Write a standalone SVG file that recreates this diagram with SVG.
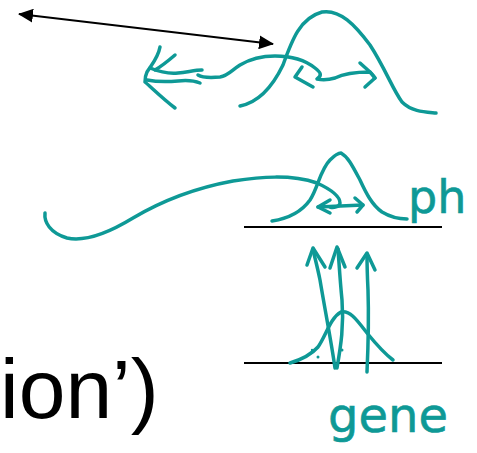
<svg xmlns="http://www.w3.org/2000/svg" width="477" height="453" viewBox="0 0 477 453">
<style>
.ink{fill:none;stroke:#0e9996;stroke-width:3.5;stroke-linecap:round;stroke-linejoin:round}
.hand{fill:#0e9996;stroke:#0e9996;stroke-width:0.6;font-family:"DejaVu Sans",sans-serif}
.blk{fill:none;stroke:#000;stroke-width:2}
</style>
<defs>
<marker id="ah" viewBox="0 0 15 14" refX="14" refY="7" markerWidth="15" markerHeight="14" markerUnits="userSpaceOnUse" orient="auto-start-reverse">
<path d="M0,0 L15,7 L0,14 z" fill="#000"/>
</marker>
</defs>
<rect width="477" height="453" fill="#fff"/>
<g id="connectors">
<line class="blk" x1="19" y1="14" x2="273" y2="44" marker-start="url(#ah)" marker-end="url(#ah)" style="stroke-width:1.8"/>
<line class="blk" x1="244" y1="227" x2="442" y2="227"/>
<line class="blk" x1="244" y1="363" x2="442" y2="363"/>
</g>
<g id="top-sketch">
<path class="ink" d="M240,106 C255,103 270,92 283,65 C292,40 300,18 322,12 C340,9 355,25 370,45 C385,68 393,90 402,102 C412,112 425,112 436,113"/>
<path class="ink" d="M160,47 C158,58 152,64 147,72 C145,76 145,80 145,82 C152,88 162,98 175,108"/>
<path class="ink" d="M175,55 C168,61 162,66 155,70"/>
<path class="ink" d="M150,68 C160,72 170,74 178,73 C188,72 195,70 202,70"/>
<path class="ink" d="M147,80 C157,82 167,82 178,81 C188,80 195,81 200,83"/>
<path class="ink" d="M198,75 C203,78 210,78 220,77 C228,76 232,70 240,65 C250,59 262,56 275,56 C292,56 305,60 315,68 C320,72 323,75 317,79 C322,80 328,80 335,78 C345,73 355,72 370,72 C373,75 375,78 375,78"/>
<path class="ink" d="M360,63 L370,72 L375,78 L365,87"/>
<path class="ink" d="M302,67 L295,77 L313,87"/>
</g>
<g id="middle-sketch">
<path class="ink" d="M45,213 C44,222 50,233 67,238 C85,242 110,232 133,218 C160,202 195,188 233,181 C260,177 290,174 317,183 C330,189 340,196 340,203 C340,207 333,208 330,207"/>
<path class="ink" d="M318,207 L363,205"/>
<path class="ink" d="M330,200 L318,207 L330,213"/>
<path class="ink" d="M355,198 L363,205 L357,212"/>
<path class="ink" d="M272,221 C285,219 300,214 310,200 C318,188 320,170 330,160 C335,155 338,153 341,153 C348,157 352,165 360,180 C366,193 372,205 382,212 C392,218 400,219 407,219"/>
<text class="hand" x="408" y="213" font-size="46">ph</text>
</g>
<g id="bottom-sketch">
<path class="ink" d="M335,368 C331,340 325,310 320,280 C317,265 314,255 313,249"/>
<path class="ink" d="M307,265 L313,248 L325,267"/>
<path class="ink" d="M337,368 C341,345 344,325 342,300 C340,280 339,262 338,249"/>
<path class="ink" d="M330,268 L337,247 L345,267"/>
<path class="ink" d="M367,372 C368,350 369,320 368,290 C367,270 367,260 367,254"/>
<path class="ink" d="M357,268 L367,253 L375,270"/>
<path class="ink" d="M290,363 C300,360 310,356 318,347 C326,336 330,318 341,312 C350,310 357,320 367,333 C376,344 385,354 393,360"/>
<circle cx="318" cy="357" r="1.5" fill="#0e9996"/>
<circle cx="342" cy="350" r="1.5" fill="#0e9996"/>
<circle cx="312" cy="350" r="1.2" fill="#0e9996"/>
<text class="hand" x="328" y="432" font-size="48">gene</text>
</g>
<g id="label">
<text x="0" y="418" font-family="'Liberation Sans',Arial,sans-serif" font-size="84" fill="#000">ion’)</text>
</g>
</svg>
